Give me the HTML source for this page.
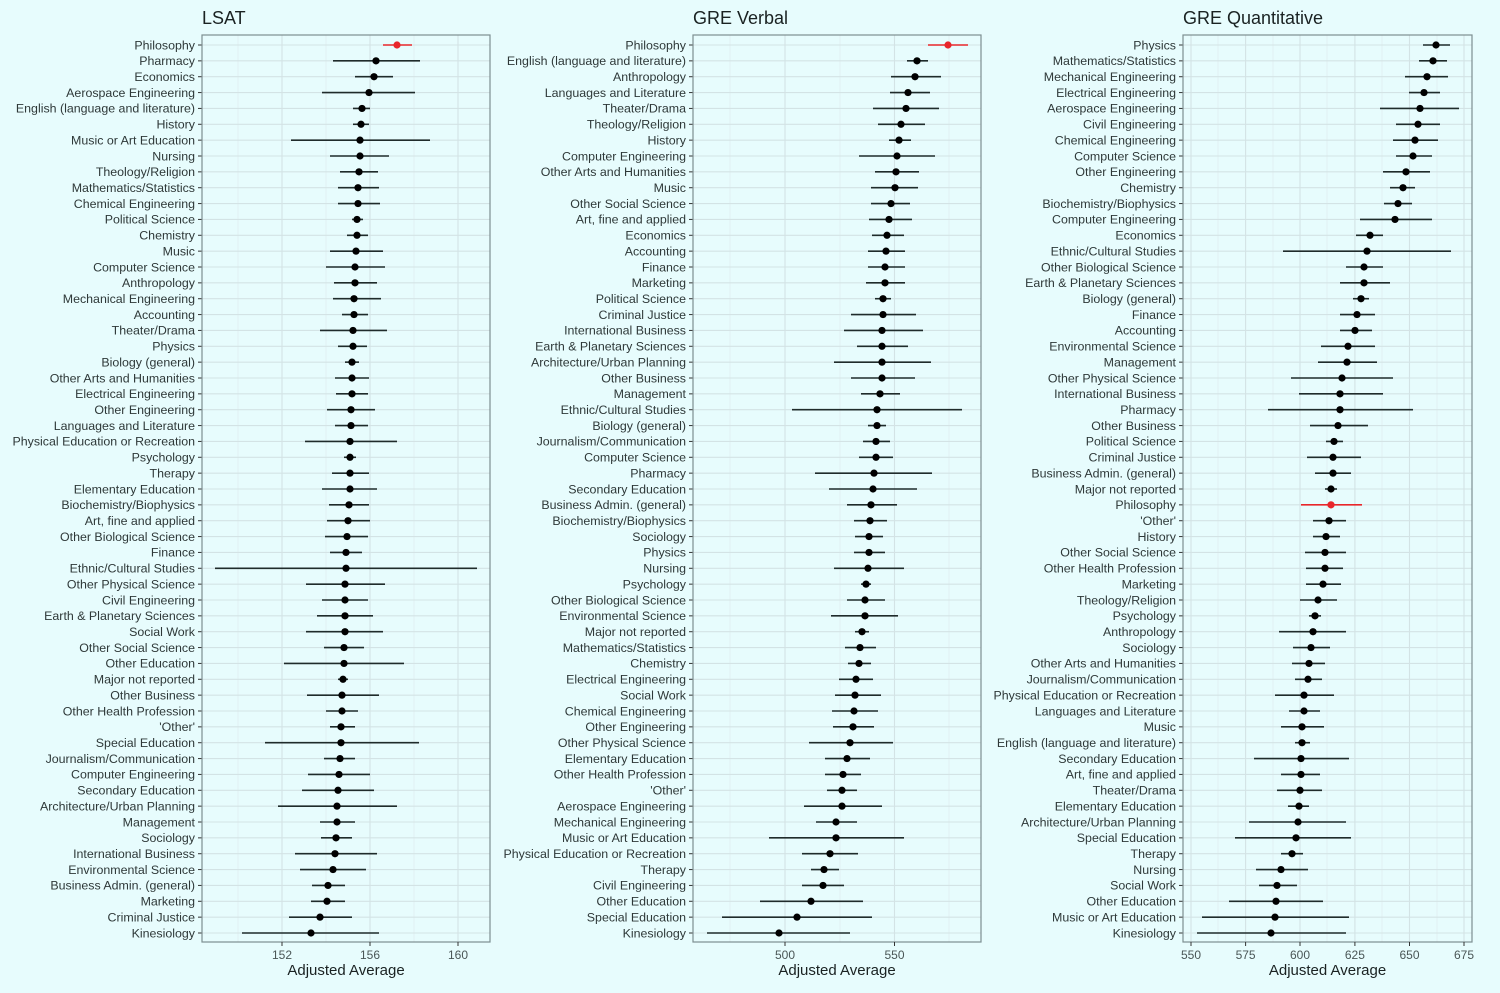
<!DOCTYPE html>
<html><head><meta charset="utf-8"><style>
html,body{margin:0;padding:0;background:#e7fcfd;}
svg{display:block;}
text{font-family:"Liberation Sans",sans-serif;}
</style></head><body>
<svg id="s" width="1500" height="993" xmlns="http://www.w3.org/2000/svg"></svg>
<script>
const L=[["Philosophy",397,383,412,1],["Pharmacy",376,333,420],["Economics",374,355,393],["Aerospace Engineering",369,322,415],["English (language and literature)",362,353,370],["History",361,353,369],["Music or Art Education",360,291,430],["Nursing",360,330,389],["Theology/Religion",359,340,378],["Mathematics/Statistics",358,338,379],["Chemical Engineering",358,338,380],["Political Science",357,352,363],["Chemistry",357,347,368],["Music",356,330,383],["Computer Science",355,326,385],["Anthropology",355,334,377],["Mechanical Engineering",354,333,381],["Accounting",354,342,368],["Theater/Drama",353,320,387],["Physics",353,338,367],["Biology (general)",352,345,359],["Other Arts and Humanities",352,335,369],["Electrical Engineering",352,336,368],["Other Engineering",351,327,375],["Languages and Literature",351,335,368],["Physical Education or Recreation",350,305,397],["Psychology",350,344,356],["Therapy",350,332,369],["Elementary Education",350,322,377],["Biochemistry/Biophysics",349,329,369],["Art, fine and applied",348,327,370],["Other Biological Science",347,325,368],["Finance",346,330,362],["Ethnic/Cultural Studies",346,215,477],["Other Physical Science",345,306,385],["Civil Engineering",345,322,368],["Earth & Planetary Sciences",345,317,373],["Social Work",345,306,383],["Other Social Science",344,324,364],["Other Education",344,284,404],["Major not reported",343,338,348],["Other Business",342,307,379],["Other Health Profession",342,326,358],["'Other'",341,330,355],["Special Education",341,265,419],["Journalism/Communication",340,324,355],["Computer Engineering",339,308,370],["Secondary Education",338,302,374],["Architecture/Urban Planning",337,278,397],["Management",337,320,355],["Sociology",336,321,352],["International Business",335,295,377],["Environmental Science",333,300,366],["Business Admin. (general)",328,312,345],["Marketing",327,311,345],["Criminal Justice",320,289,352],["Kinesiology",311,242,379]];
const V=[["Philosophy",948,928,968,1],["English (language and literature)",917,907,928],["Anthropology",915,891,941],["Languages and Literature",908,890,930],["Theater/Drama",906,873,939],["Theology/Religion",901,878,925],["History",899,889,911],["Computer Engineering",897,859,935],["Other Arts and Humanities",896,875,919],["Music",895,871,918],["Other Social Science",891,871,910],["Art, fine and applied",889,869,912],["Economics",887,872,904],["Accounting",886,868,905],["Finance",885,868,905],["Marketing",885,866,905],["Political Science",883,875,891],["Criminal Justice",883,851,916],["International Business",882,844,923],["Earth & Planetary Sciences",882,857,908],["Architecture/Urban Planning",882,834,931],["Other Business",882,851,915],["Management",880,861,900],["Ethnic/Cultural Studies",877,792,962],["Biology (general)",877,868,886],["Journalism/Communication",876,863,890],["Computer Science",876,859,893],["Pharmacy",874,815,932],["Secondary Education",873,829,917],["Business Admin. (general)",871,847,897],["Biochemistry/Biophysics",870,854,887],["Sociology",869,855,883],["Physics",869,854,885],["Nursing",868,834,904],["Psychology",866,861,871],["Other Biological Science",865,847,885],["Environmental Science",865,831,898],["Major not reported",862,855,869],["Mathematics/Statistics",860,845,876],["Chemistry",859,848,871],["Electrical Engineering",856,839,873],["Social Work",855,835,881],["Chemical Engineering",854,832,878],["Other Engineering",853,833,874],["Other Physical Science",850,809,893],["Elementary Education",847,825,870],["Other Health Profession",843,825,861],["'Other'",842,827,857],["Aerospace Engineering",842,804,882],["Mechanical Engineering",836,816,857],["Music or Art Education",836,769,904],["Physical Education or Recreation",830,802,858],["Therapy",824,811,839],["Civil Engineering",823,802,844],["Other Education",811,760,863],["Special Education",797,722,872],["Kinesiology",779,707,850]];
const Q=[["Physics",1436,1423,1450],["Mathematics/Statistics",1433,1419,1447],["Mechanical Engineering",1427,1405,1448],["Electrical Engineering",1424,1409,1440],["Aerospace Engineering",1420,1380,1459],["Civil Engineering",1418,1396,1440],["Chemical Engineering",1415,1393,1438],["Computer Science",1413,1396,1432],["Other Engineering",1406,1383,1430],["Chemistry",1403,1390,1415],["Biochemistry/Biophysics",1398,1384,1412],["Computer Engineering",1395,1360,1432],["Economics",1370,1356,1383],["Ethnic/Cultural Studies",1367,1283,1451],["Other Biological Science",1364,1346,1383],["Earth & Planetary Sciences",1364,1340,1390],["Biology (general)",1361,1353,1369],["Finance",1357,1340,1375],["Accounting",1355,1340,1372],["Environmental Science",1348,1321,1375],["Management",1347,1318,1377],["Other Physical Science",1342,1291,1393],["International Business",1340,1299,1383],["Pharmacy",1340,1268,1413],["Other Business",1338,1310,1368],["Political Science",1334,1326,1343],["Criminal Justice",1333,1307,1361],["Business Admin. (general)",1333,1315,1351],["Major not reported",1331,1325,1337],["Philosophy",1331,1301,1362,1],["'Other'",1329,1313,1346],["History",1326,1313,1340],["Other Social Science",1325,1305,1346],["Other Health Profession",1325,1306,1343],["Marketing",1323,1306,1341],["Theology/Religion",1318,1300,1337],["Psychology",1315,1309,1321],["Anthropology",1313,1279,1346],["Sociology",1311,1293,1330],["Other Arts and Humanities",1309,1292,1325],["Journalism/Communication",1308,1295,1322],["Physical Education or Recreation",1304,1275,1334],["Languages and Literature",1304,1289,1320],["Music",1302,1281,1324],["English (language and literature)",1302,1295,1310],["Secondary Education",1301,1254,1349],["Art, fine and applied",1301,1281,1320],["Theater/Drama",1300,1277,1322],["Elementary Education",1299,1288,1309],["Architecture/Urban Planning",1298,1249,1346],["Special Education",1296,1235,1351],["Therapy",1292,1281,1303],["Nursing",1281,1256,1308],["Social Work",1277,1259,1297],["Other Education",1276,1229,1323],["Music or Art Education",1275,1202,1349],["Kinesiology",1271,1197,1346]];
const T=35,B=942,Y0=45,DY=(933-45)/56;
const panels=[
 {d:L,x0:202,x1:490,title:"LSAT",major:[[282,"152"],[370,"156"],[458,"160"]],minor:[238,326,414]},
 {d:V,x0:693,x1:981,title:"GRE Verbal",major:[[785,"500"],[894.5,"550"]],minor:[730,840,949]},
 {d:Q,x0:1183,x1:1472,title:"GRE Quantitative",major:[[1191,"550"],[1245.6,"575"],[1300,"600"],[1354.9,"625"],[1409.5,"650"],[1464,"675"]],minor:[1218,1273,1327,1382,1437]}
];
let h="";
for(const p of panels){
 h+=`<rect x="${p.x0}" y="${T}" width="${p.x1-p.x0}" height="${B-T}" fill="#e7fcfd"/>`;
 for(const m of p.minor)h+=`<line x1="${m}" x2="${m}" y1="${T}" y2="${B}" stroke="#e0eeef" stroke-width="0.8"/>`;
 p.d.forEach((r,i)=>{const y=Y0+i*DY;h+=`<line x1="${p.x0}" x2="${p.x1}" y1="${y}" y2="${y}" stroke="#d3e3e5" stroke-width="1.1"/>`;});
 for(const m of p.major)h+=`<line x1="${m[0]}" x2="${m[0]}" y1="${T}" y2="${B}" stroke="#d3e3e5" stroke-width="1.1"/>`;
 p.d.forEach((r,i)=>{const y=Y0+i*DY;const c=r[4]?"#e8262b":"#1f2b2b";
  h+=`<line x1="${r[2]}" x2="${r[3]}" y1="${y}" y2="${y}" stroke="${c}" stroke-width="1.6"/><circle cx="${r[1]}" cy="${y}" r="3.6" fill="${r[4]?c:'#000'}"/>`;
  h+=`<line x1="${p.x0-4}" x2="${p.x0}" y1="${y}" y2="${y}" stroke="#333" stroke-width="1"/>`;
  h+=`<text x="${p.x0-7}" y="${y+4.3}" text-anchor="end" font-size="12.4" fill="#2e3838">${r[0].replace(/&/g,"&amp;")}</text>`;});
 h+=`<rect x="${p.x0}" y="${T}" width="${p.x1-p.x0}" height="${B-T}" fill="none" stroke="#7d8e90" stroke-width="1.2"/>`;
 for(const m of p.major)h+=`<line x1="${m[0]}" x2="${m[0]}" y1="${B}" y2="${B+4}" stroke="#333"/><text x="${m[0]}" y="${B+17}" text-anchor="middle" font-size="12" fill="#4a5656">${m[1]}</text>`;
 h+=`<text x="${(p.x0+p.x1)/2}" y="975" text-anchor="middle" font-size="15" fill="#1a2222">Adjusted Average</text>`;
 h+=`<text x="${p.x0}" y="24" font-size="18" fill="#1a2222">${p.title}</text>`;
}
document.getElementById("s").innerHTML=h;
</script>
</body></html>
